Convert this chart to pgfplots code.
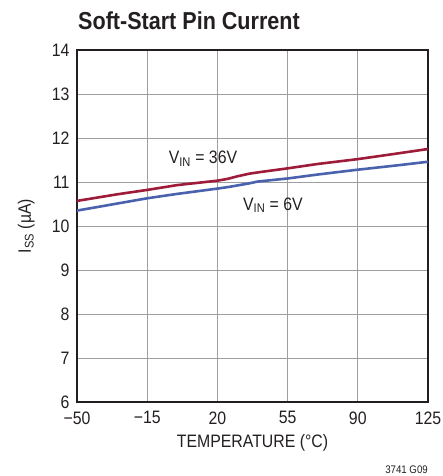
\documentclass[border=0pt]{standalone}
\usepackage{fontspec}
\setmainfont{Liberation Sans}[FakeStretch=0.88]
\usepackage{pgfplots}
\pgfplotsset{compat=1.18}
\definecolor{ltred}{HTML}{9E1B3A}
\definecolor{ltblue}{HTML}{4A62AE}
\definecolor{txt}{HTML}{231F20}
\begin{document}
\begin{tikzpicture}
\begin{axis}[
  at={(0,0)}, anchor=south west,
  scale only axis, width=351pt, height=352pt,
  clip mode=individual,
  xmin=-50, xmax=125, ymin=6, ymax=14,
  xtick={-50,-15,20,55,90,125},
  xticklabels={−50,−15,20,55,90,125},
  ytick={6,7,8,9,10,11,12,13,14},
  yticklabels={6,7,8,9,10,11,12,13,14},
  major tick length=0pt,
  grid=major, grid style={gray!75, line width=0.8pt},
  axis line style={txt, line width=1.1pt},
  tick label style={font=\fontsize{18}{20}\selectfont, text=txt},
  xticklabel style={yshift=-6pt},
  yticklabel style={xshift=-4pt},
  xlabel={TEMPERATURE (°C)},
  ylabel={I\textsubscript{SS} (µA)},
  label style={font=\fontsize{18}{20}\selectfont, text=txt},
  xlabel style={at={(axis description cs:0.5,-0.117)}, anchor=center},
  ylabel style={at={(axis description cs:-0.145,0.5)}, anchor=center},
]
\addplot[ltred, line width=2.6pt] coordinates {
  (-50,10.57) (-30,10.72) (-15,10.82) (0,10.93) (20,11.03) (25,11.07)
  (30,11.13) (36,11.19) (42,11.23) (55,11.31) (70,11.41) (90,11.52)
  (110,11.65) (125,11.75)};
\addplot[ltblue, line width=2.6pt] coordinates {
  (-50,10.35) (-30,10.51) (-15,10.63) (0,10.73) (20,10.85) (26,10.89)
  (31,10.93) (36,10.97) (40,11.01) (55,11.08) (70,11.17) (90,11.28)
  (110,11.38) (125,11.46)};
\node[txt, font=\fontsize{18}{20}\selectfont] at (axis cs:12.8,11.53) {V\textsubscript{IN} = 36V};
\node[txt, font=\fontsize{18}{20}\selectfont] at (axis cs:47.7,10.47) {V\textsubscript{IN} = 6V};
\node[txt, anchor=base west, inner sep=0pt, font=\bfseries\fontsize{24.5}{26}\selectfont] at ([xshift=1pt,yshift=21pt]rel axis cs:0,1) {Soft-Start Pin Current};
\node[txt, anchor=base east, inner sep=0pt, font=\fontsize{11}{12}\selectfont] at ([yshift=-71pt]rel axis cs:1,0) {3741 G09};
\end{axis}
\pgfresetboundingbox
\path (-77pt,-74pt) rectangle (365pt,402pt);
\end{tikzpicture}
\end{document}
